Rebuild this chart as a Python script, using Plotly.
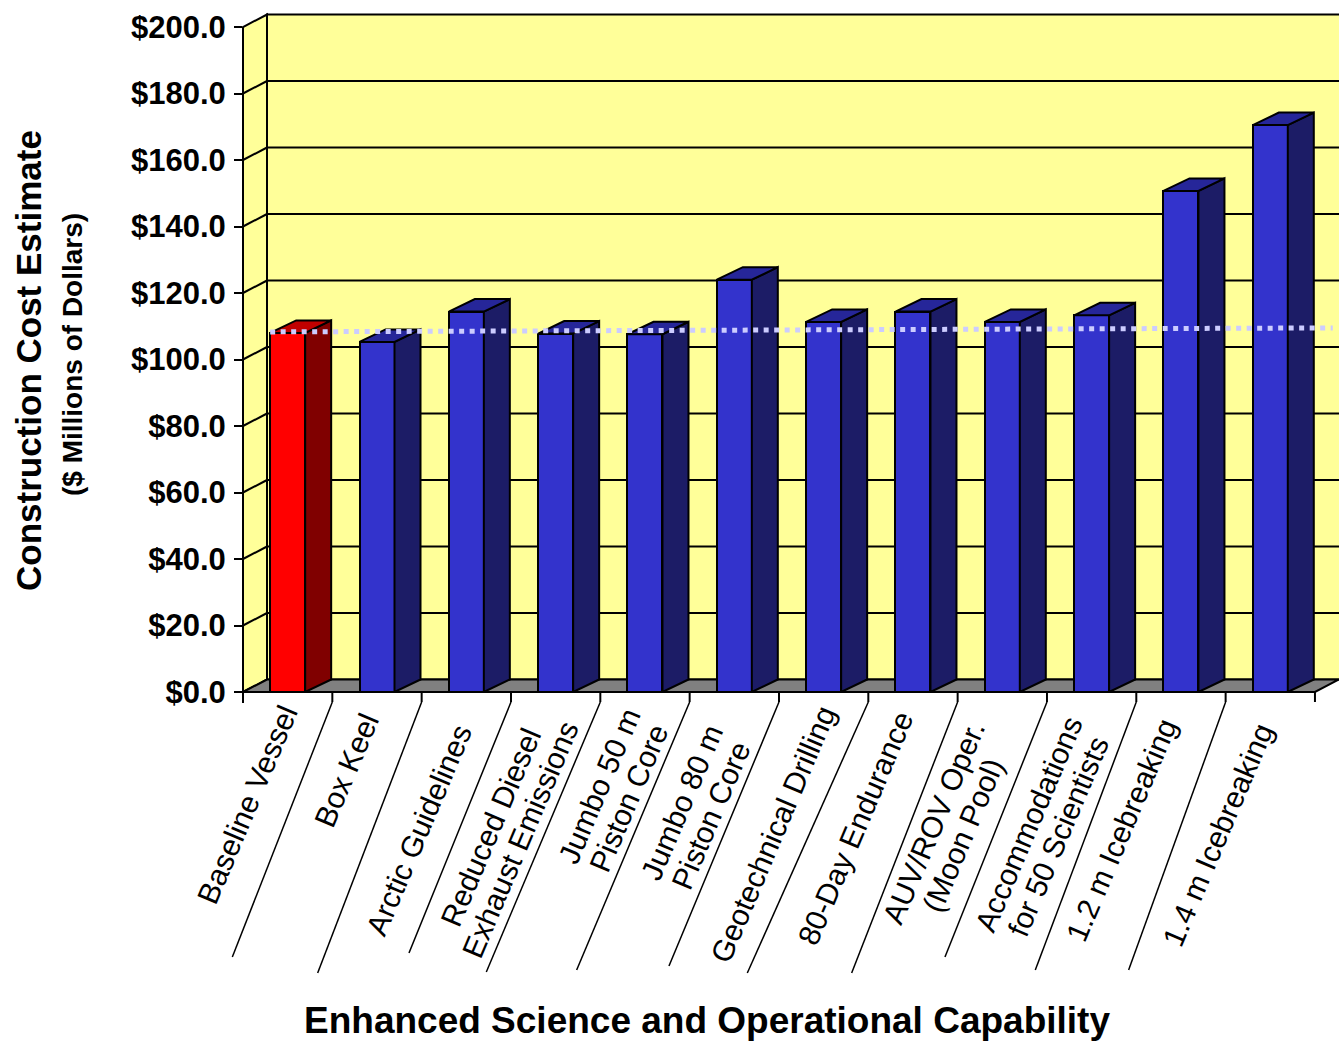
import math
import plotly.graph_objects as go

# ---------------- data ----------------
CATEGORIES = [
    "Baseline Vessel",
    "Box Keel",
    "Arctic Guidelines",
    "Reduced Diesel<br>Exhaust Emissions",
    "Jumbo 50 m<br>Piston Core",
    "Jumbo 80 m<br>Piston Core",
    "Geotechnical Drilling",
    "80-Day Endurance",
    "AUV/ROV Oper.<br>(Moon Pool)",
    "Accommodations<br>for 50 Scientists",
    "1.2 m Icebreaking",
    "1.4 m Icebreaking",
]
COSTS = [108.0, 105.3, 114.4, 107.8, 107.6, 124.0, 111.3, 114.4, 111.3, 113.3, 150.7, 170.5]
BASELINE_REF = [108.3, 109.5]          # dotted reference line (left end, right end)
Y_TICKS = [0, 20, 40, 60, 80, 100, 120, 140, 160, 180, 200]
Y_TICK_TEXT = ["$%.1f" % v for v in Y_TICKS]

# ---------------- layout geometry ----------------
W, H = 1339, 1042
PL, PR, PT, PB = 243, 1339, 15, 692      # plot area in pixels
PX_PER_CAT = 89.33
PX_PER_USD = 3.325
N = len(CATEGORIES)
X0 = -0.5
X1 = X0 + (PR - PL) / PX_PER_CAT
Y0 = 0.0
Y1 = (PB - PT) / PX_PER_USD
WALL_DX = 24 / PX_PER_CAT
DEPTH_DY = 12.5 / PX_PER_USD
BAR_DX = 26 / PX_PER_CAT
BAR_HALF = 17.5 / PX_PER_CAT

# label placement: centre of each rotated label block (px offset from category centre, px y)
LABEL_DX = [-40, -31, -48, -50, -31, -38, -51, -58, -54, -48, -60, -52]
LABEL_CY = [805, 770, 830, 833, 792, 809, 834, 828, 829, 830, 830, 835]
LABEL_ANGLE = -67
LINE_GAP = 31          # px between the two lines of a wrapped label
# leader lines: horizontal shift (px) and end y (px) for boundaries 1..11
LEADER_DX = [-100, -104, -102, -114, -113, -110, -121, -106, -102, -101, -97]
LEADER_END = [957, 973, 953, 972, 970, 966, 973, 973, 957, 970, 970]

FONT = "Liberation Sans, Arial, sans-serif"
YELLOW = "#FFFF99"
GREY = "#808080"


def xp(x):
    return (x - X0) / (X1 - X0)


def yp(y):
    return (y - Y0) / (Y1 - Y0)


def ypix(p):
    return (PB - p) / (PB - PT)


def xpix(p):
    return (p - PL) / (PR - PL)


def poly(pts):
    return "M " + " L ".join("%f,%f" % (xp(a), yp(b)) for a, b in pts) + " Z"


shapes = []
LINE = dict(color="black", width=2)

# back wall
shapes.append(dict(type="rect", xref="paper", yref="paper", layer="below",
                   x0=xp(X0 + WALL_DX), x1=xp(X1 + 1), y0=yp(DEPTH_DY), y1=yp(Y_TICKS[-1] + DEPTH_DY),
                   fillcolor=YELLOW, line=LINE))
for v in Y_TICKS[1:-1]:
    shapes.append(dict(type="line", xref="paper", yref="paper", layer="below",
                       x0=xp(X0 + WALL_DX), x1=xp(X1 + 1), y0=yp(v + DEPTH_DY), y1=yp(v + DEPTH_DY),
                       line=LINE))
# left wall
shapes.append(dict(type="path", xref="paper", yref="paper", layer="below",
                   path=poly([(X0, 0), (X0 + WALL_DX, DEPTH_DY), (X0 + WALL_DX, Y_TICKS[-1] + DEPTH_DY),
                              (X0, Y_TICKS[-1])]),
                   fillcolor=YELLOW, line=LINE))
for v in Y_TICKS[1:-1]:
    shapes.append(dict(type="line", xref="paper", yref="paper", layer="below",
                       x0=xp(X0), x1=xp(X0 + WALL_DX), y0=yp(v), y1=yp(v + DEPTH_DY), line=LINE))
# floor
shapes.append(dict(type="path", xref="paper", yref="paper", layer="below",
                   path=poly([(X0, 0), (N - 0.5, 0), (N - 0.5 + WALL_DX, DEPTH_DY), (X0 + WALL_DX, DEPTH_DY)]),
                   fillcolor=GREY, line=LINE))
# front vertical axis line
shapes.append(dict(type="line", xref="paper", yref="paper", layer="above",
                   x0=xp(X0), x1=xp(X0), y0=yp(Y_TICKS[-1]), y1=ypix(703), line=LINE))
# category boundary ticks
for k in range(N + 1):
    shapes.append(dict(type="line", xref="paper", yref="paper", layer="above",
                       x0=xp(k - 0.5), x1=xp(k - 0.5), y0=yp(0), y1=ypix(702), line=LINE))
# leader lines
for k in range(1, N):
    bx = xp(k - 0.5)
    shapes.append(dict(type="line", xref="paper", yref="paper", layer="above",
                       x0=bx, x1=bx + LEADER_DX[k - 1] / (PR - PL),
                       y0=ypix(702), y1=ypix(LEADER_END[k - 1]),
                       line=dict(color="black", width=1.5)))

fig = go.Figure()

front_colors = ["#FF0000"] + ["#3333CC"] * (N - 1)
side_colors = ["#800000"] + ["#1C1C66"] * (N - 1)
top_colors = ["#C00000"] + ["#262699"] * (N - 1)

fig.add_trace(go.Bar(x=list(range(N)), y=COSTS, width=2 * BAR_HALF,
                     marker=dict(color=front_colors, line=dict(color="black", width=2)),
                     cliponaxis=False, showlegend=False, hoverinfo="skip"))

for i, v in enumerate(COSTS):
    r = i + BAR_HALF
    l = i - BAR_HALF
    side_x = [r, r + BAR_DX, r + BAR_DX, r, r]
    side_y = [0, DEPTH_DY, v + DEPTH_DY, v, 0]
    fig.add_trace(go.Scatter(x=side_x, y=side_y, mode="lines", fill="toself",
                             fillcolor=side_colors[i], line=dict(color="black", width=2),
                             showlegend=False, hoverinfo="skip", cliponaxis=False))
    top_x = [l, r, r + BAR_DX, l + BAR_DX, l]
    top_y = [v, v, v + DEPTH_DY, v + DEPTH_DY, v]
    fig.add_trace(go.Scatter(x=top_x, y=top_y, mode="lines", fill="toself",
                             fillcolor=top_colors[i], line=dict(color="black", width=2),
                             showlegend=False, hoverinfo="skip", cliponaxis=False))

# dotted baseline reference
fig.add_trace(go.Scatter(x=[-BAR_HALF, X1 - 0.07], y=BASELINE_REF, mode="lines",
                         line=dict(color="#CCCCFF", width=5, dash="5px,5.5px"),
                         showlegend=False, hoverinfo="skip"))

annotations = []
ang = math.radians(-LABEL_ANGLE)
nx, ny = math.sin(ang), math.cos(ang)      # screen direction from one text line to the next
for i, name in enumerate(CATEGORIES):
    parts = name.split("<br>")
    m = len(parts)
    for j, part in enumerate(parts):
        off = (j - (m - 1) / 2) * LINE_GAP
        annotations.append(dict(x=i, xref="x", y=ypix(LABEL_CY[i] + off * ny), yref="paper",
                                xanchor="center", yanchor="middle",
                                xshift=LABEL_DX[i] + off * nx,
                                text=part, textangle=LABEL_ANGLE, showarrow=False, align="center",
                                font=dict(family=FONT, size=30, color="black")))
annotations.append(dict(x=xpix(28), y=ypix(361), xref="paper", yref="paper",
                        text="Construction Cost Estimate", textangle=-90, showarrow=False,
                        xanchor="center", yanchor="middle",
                        font=dict(family=FONT, size=35, color="black", weight="bold")))
annotations.append(dict(x=xpix(72), y=ypix(355), xref="paper", yref="paper",
                        text="($ Millions of Dollars)", textangle=-90, showarrow=False,
                        xanchor="center", yanchor="middle",
                        font=dict(family=FONT, size=28, color="black", weight="bold")))
annotations.append(dict(x=xpix(707), y=ypix(1020), xref="paper", yref="paper",
                        text="Enhanced Science and Operational Capability", showarrow=False,
                        xanchor="center", yanchor="middle",
                        font=dict(family=FONT, size=37, color="black", weight="bold")))

fig.update_layout(
    width=W, height=H,
    margin=dict(l=PL, r=W - PR, t=PT, b=H - PB, pad=0),
    paper_bgcolor="white", plot_bgcolor="rgba(0,0,0,0)",
    showlegend=False,
    shapes=shapes,
    annotations=annotations,
    bargap=0,
    xaxis=dict(range=[X0, X1], showgrid=False, zeroline=False, showticklabels=False,
               ticks="", showline=False, fixedrange=True),
    yaxis=dict(range=[Y0, Y1], tickvals=Y_TICKS, ticktext=Y_TICK_TEXT, ticks="outside",
               ticklen=8, tickwidth=2, tickcolor="black", showgrid=False, zeroline=False,
               showline=False, ticklabelstandoff=2,
               tickfont=dict(family=FONT, size=31, color="black", weight="bold"),
               fixedrange=True),
)

fig.write_html("out.html")
